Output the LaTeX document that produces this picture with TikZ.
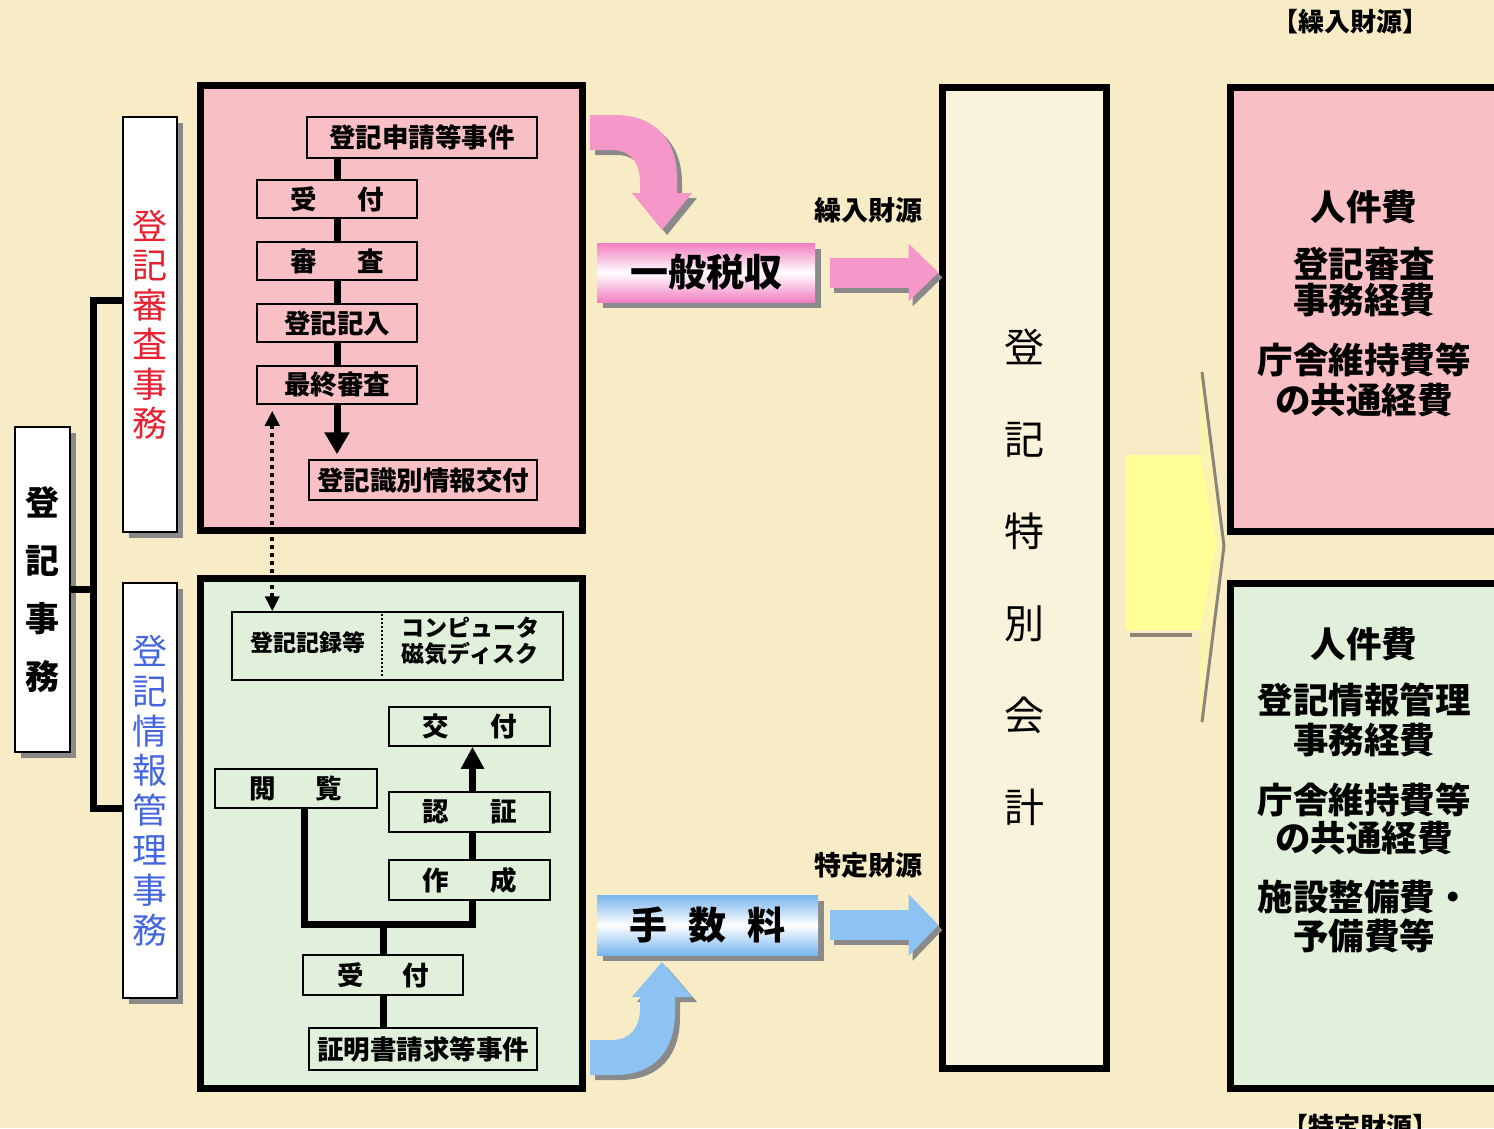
\documentclass[tikz,border=0pt]{standalone}
\usepackage{fontspec}
\setmainfont{Noto Sans CJK JP}
\usetikzlibrary{arrows.meta,shadows}
\definecolor{bg}{HTML}{F8ECC6}
\definecolor{pinkbox}{HTML}{F8C0C4}
\definecolor{greenbox}{HTML}{E0F0DA}
\definecolor{pinkarr}{HTML}{F597C9}
\definecolor{bluearr}{HTML}{8DC3F2}
\definecolor{shgray}{HTML}{8A8A8A}
\definecolor{centerfill}{HTML}{FBF2DC}
\definecolor{redtxt}{HTML}{E82030}
\definecolor{bluetxt}{HTML}{4466E0}
\definecolor{yel}{HTML}{FFFF96}
\definecolor{yelpale}{HTML}{FBF3B0}
\definecolor{pinkgrad}{HTML}{F27EC2}
\definecolor{bluegrad}{HTML}{78B4EE}
\definecolor{chevgray}{HTML}{8C8474}
\newcommand\myfs[2]{\fontsize{#1}{#2}\selectfont}
\begin{document}
\begin{tikzpicture}[x=1pt,y=-1pt,
  bigbox/.style={draw=black,line width=7pt,inner sep=0pt},
  sbox/.style={draw=black,line width=1.5pt,inner sep=0pt,font=\myfs{26.5}{30}\bfseries},
  lbox/.style={draw=black,line width=1.5pt,fill=white,inner sep=0pt,align=center,
     drop shadow={shadow xshift=6pt,shadow yshift=-6pt,fill=shgray,opacity=1}},
  conn/.style={draw=black,line width=7pt},
  gbar/.style={inner sep=0pt,
     drop shadow={shadow xshift=6pt,shadow yshift=-6pt,fill=shgray,opacity=1},
     font=\myfs{38}{44}\bfseries},
  lbl/.style={inner sep=0pt,font=\myfs{27}{32}\bfseries},
  rtxt/.style={inner sep=0pt,align=center,font=\myfs{35.5}{38}\bfseries},
]
\useasboundingbox (0,0) rectangle (1494,1128);
\clip (0,0) rectangle (1494,1128);
\fill[bg] (0,0) rectangle (1494,1128);

% ---------- left hierarchy ----------
\node[lbox, minimum width=55pt, minimum height=325pt, font=\myfs{34}{58}\bfseries] (jimu) at (42.5,589.5) {登\\記\\事\\務};
\node[lbox, minimum width=54pt, minimum height=415pt, text=redtxt, font=\myfs{35}{39.5}] (shinsaj) at (150,324.5) {登\\記\\審\\査\\事\\務};
\node[lbox, minimum width=54pt, minimum height=415pt, text=bluetxt, font=\myfs{35}{39.8}] (kanri) at (150,790.5) {登\\記\\情\\報\\管\\理\\事\\務};
\coordinate (bx) at (93,589.5);
\draw[conn] (jimu.east) -- (bx);
\draw[conn, line join=miter] (shinsaj.west |- 0,300) -| (bx) |- (kanri.west |- 0,808);

% ---------- big process boxes ----------
\node[bigbox, fill=pinkbox, minimum width=382pt, minimum height=445pt] (pbox) at (391,307.5) {};
\node[bigbox, fill=greenbox, minimum width=382pt, minimum height=510pt] (gbox) at (391,833) {};

% pink flow
\node[sbox, minimum width=230pt, minimum height=41pt] (shinsei) at (422,137.5) {登記申請等事件};
\node[sbox, minimum width=160pt, minimum height=38pt] (uk1) at (337,199) {受\hspace{41pt}付};
\node[sbox, minimum width=160pt, minimum height=38pt] (shinsa) at (337,261) {審\hspace{41pt}査};
\node[sbox, minimum width=160pt, minimum height=38pt] (kinyu) at (337,323) {登記記入};
\node[sbox, minimum width=160pt, minimum height=38pt] (saishu) at (337,385) {最終審査};
\node[sbox, minimum width=228pt, minimum height=40pt] (shikibetsu) at (423,480) {登記識別情報交付};
\draw[conn] (uk1.north) -- (uk1.north |- shinsei.south);
\draw[conn] (uk1.south) -- (shinsa.north);
\draw[conn] (shinsa.south) -- (kinyu.north);
\draw[conn] (kinyu.south) -- (saishu.north);
\draw[conn, -{Triangle[width=24pt,length=22pt]}] (saishu.south) -- ([yshift=5pt]saishu.south |- shikibetsu.north);

% green flow
\node[draw=black, line width=1.5pt, inner sep=0pt, minimum width=331pt, minimum height=68pt] (kiroku) at (397.5,646) {};
\node[inner sep=0pt, font=\myfs{23}{26}\bfseries] (kirokuL) at (308,643) {登記記録等};
\node[inner sep=0pt, align=center, font=\myfs{23}{26}\bfseries] (kirokuR) at (470,641) {コンピュータ\\磁気ディスク};
\draw[line width=1.5pt, dash pattern=on 1.5pt off 2.5pt] (382,614) -- (382,678);
\node[sbox, minimum width=161pt, minimum height=39pt] (kofu) at (469.5,726.5) {交\hspace{42pt}付};
\node[sbox, minimum width=162pt, minimum height=39pt] (etsuran) at (296,788.5) {閲\hspace{40pt}覧};
\node[sbox, minimum width=161pt, minimum height=40pt] (ninsho) at (469.5,812) {認\hspace{41pt}証};
\node[sbox, minimum width=161pt, minimum height=40pt] (sakusei) at (469.5,880) {作\hspace{41pt}成};
\node[sbox, minimum width=160pt, minimum height=40pt] (uk2) at (383,975) {受\hspace{39pt}付};
\node[sbox, minimum width=228pt, minimum height=42pt] (shomei) at (423,1049) {証明書請求等事件};
\coordinate (jn) at (383,924);
\draw[conn, line join=miter] ([xshift=8pt]etsuran.south) |- (jn) -| ([xshift=3pt]sakusei.south);
\draw[conn] (jn) -- (uk2.north);
\draw[conn] (uk2.south) -- (uk2.south |- shomei.north);
\draw[conn] ([xshift=3pt]sakusei.north) -- ([xshift=3pt]ninsho.south);
\draw[conn, -{Triangle[width=22pt,length=22pt]}] ([xshift=3pt]ninsho.north) -- ([xshift=3pt]kofu.south);

% dotted link
\draw[line width=4pt, dash pattern=on 4pt off 4pt,
  {Triangle[width=14pt,length=15pt]}-{Triangle[width=14pt,length=15pt]}]
  ([xshift=16pt,yshift=-6pt]saishu.south west) -- ([xshift=16pt]saishu.south west |- kiroku.north);

% ---------- curved arrows ----------
\begin{scope}[shift={(5,5)}]
\fill[shgray] (590,115) -- (615,115) .. controls (655,115) and (677,140) .. (677,178) -- (677,193) -- (692,193) -- (662,230) -- (632,193) -- (640,193) -- (640,182) .. controls (640,162) and (630,150) .. (612,150) -- (590,150) -- cycle;
\fill[shgray] (590,1075) -- (615,1075) .. controls (655,1075) and (675,1050) .. (675,1012) -- (675,997) -- (692,997) -- (662,962) -- (632,997) -- (640,997) -- (640,1008) .. controls (640,1028) and (630,1040) .. (612,1040) -- (590,1040) -- cycle;
\end{scope}
\fill[pinkarr] (590,115) -- (615,115) .. controls (655,115) and (677,140) .. (677,178) -- (677,193) -- (692,193) -- (662,230) -- (632,193) -- (640,193) -- (640,182) .. controls (640,162) and (630,150) .. (612,150) -- (590,150) -- cycle;
\fill[bluearr] (590,1075) -- (615,1075) .. controls (655,1075) and (675,1050) .. (675,1012) -- (675,997) -- (692,997) -- (662,962) -- (632,997) -- (640,997) -- (640,1008) .. controls (640,1028) and (630,1040) .. (612,1040) -- (590,1040) -- cycle;

% ---------- revenue bars ----------
\node[gbar, top color=pinkgrad, bottom color=pinkgrad, middle color=white, minimum width=218pt, minimum height=59pt] (ippan) at (706,272.5) {一般税収};
\node[gbar, top color=bluegrad, bottom color=bluegrad, middle color=white, minimum width=221pt, minimum height=60pt] (tesu) at (707.5,925) {手\hspace{21pt}数\hspace{21pt}料};
\node[lbl] (lk) at (868,210) {繰入財源};
\node[lbl] (lt) at (868,865) {特定財源};

% ---------- special account ----------
\node[bigbox, fill=centerfill, minimum width=164pt, minimum height=981pt, align=center, font=\myfs{40}{92}] (kaikei) at (1024,577.5) {登\\記\\特\\別\\会\\計};

% straight arrows
\draw[line width=30pt, shgray, -{Triangle[width=56pt,length=30pt]}, transform canvas={xshift=4pt,yshift=-5pt}] ([xshift=15pt]ippan.east) -- (kaikei.west |- ippan.east);
\draw[line width=30pt, pinkarr, -{Triangle[width=56pt,length=30pt]}] ([xshift=15pt]ippan.east) -- (kaikei.west |- ippan.east);
\draw[line width=30pt, shgray, -{Triangle[width=60pt,length=30pt]}, transform canvas={xshift=4pt,yshift=-5pt}] ([xshift=12pt]tesu.east) -- (kaikei.west |- tesu.east);
\draw[line width=30pt, bluearr, -{Triangle[width=60pt,length=30pt]}] ([xshift=12pt]tesu.east) -- (kaikei.west |- tesu.east);

% ---------- big chevron arrow ----------
\fill[yelpale] (1125,455) -- (1200,455) -- (1200,370) -- (1222,545) -- (1200,720) -- (1200,630) -- (1125,630) -- cycle;
\fill[yel] (1125,455) -- (1200,455) -- (1216,545) -- (1200,630) -- (1125,630) -- cycle;
\draw[chevgray, line width=3pt] (1202,372) -- (1224,546) -- (1202,722);
\draw[chevgray, line width=4pt] (1130,635) -- (1192,635);

% ---------- expenditure boxes ----------
\node[bigbox, fill=pinkbox, minimum width=300pt, minimum height=444pt] (rp) at (1380,309) {};
\node[bigbox, fill=greenbox, minimum width=300pt, minimum height=505pt] (rg) at (1380,835.5) {};
\node[rtxt] (rp1) at (1364,207) {人件費};
\node[rtxt, font=\myfs{35.5}{36}\bfseries] (rp2) at (1364,282.5) {登記審査\\事務経費};
\node[rtxt, font=\myfs{35.5}{40}\bfseries] (rp3) at (1364,380) {庁舎維持費等\\の共通経費};
\node[rtxt] (rg1) at (1364,644) {人件費};
\node[rtxt, font=\myfs{35.5}{40}\bfseries] (rg2) at (1364,720) {登記情報管理\\事務経費};
\node[rtxt] (rg3) at (1364,819) {庁舎維持費等\\の共通経費};
\node[rtxt, font=\myfs{35.5}{39}\bfseries] (rg4) at (1364,916.5) {施設整備費・\\予備費等};

\node[inner sep=0pt, font=\myfs{26}{30}\bfseries] (hk) at (1350,22) {【繰入財源】};
\node[inner sep=0pt, font=\myfs{26}{30}\bfseries] (ht) at (1360,1127) {【特定財源】};
\end{tikzpicture}
\end{document}
